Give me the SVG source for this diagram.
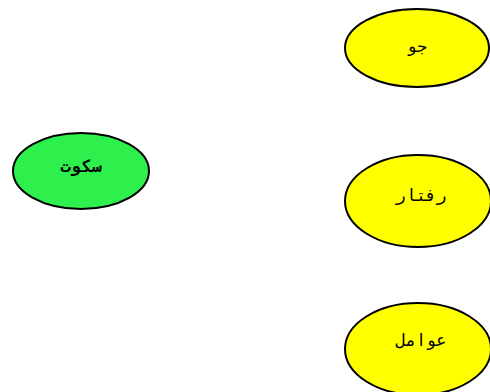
<svg xmlns="http://www.w3.org/2000/svg" width="490" height="392" viewBox="0 0 490 392">
<style>
.n{stroke:#000;stroke-width:2}
.y{fill:#ffff00}
.g{fill:#2ef04c}
text{font-family:"DejaVu Sans Mono","Noto Sans",monospace;font-size:17px;text-anchor:middle;dominant-baseline:central;fill:#000;letter-spacing:5px}
</style>
<rect width="490" height="392" fill="#fff"/>
<g id="connectors"></g>
<g id="n-sokut"><ellipse class="n g" cx="81" cy="171" rx="68" ry="38"/><text x="81" y="166" font-weight="bold">سکوت</text></g>
<g id="n-jo"><ellipse class="n y" cx="417" cy="48" rx="72" ry="39"/><text x="417" y="46">جو</text></g>
<g id="n-raftar"><ellipse class="n y" cx="418" cy="201" rx="73" ry="46"/><text x="421" y="195">رفتار</text></g>
<g id="n-avamel"><ellipse class="n y" cx="418" cy="349" rx="73" ry="46"/><text x="421" y="340">عوامل</text></g>
</svg>
